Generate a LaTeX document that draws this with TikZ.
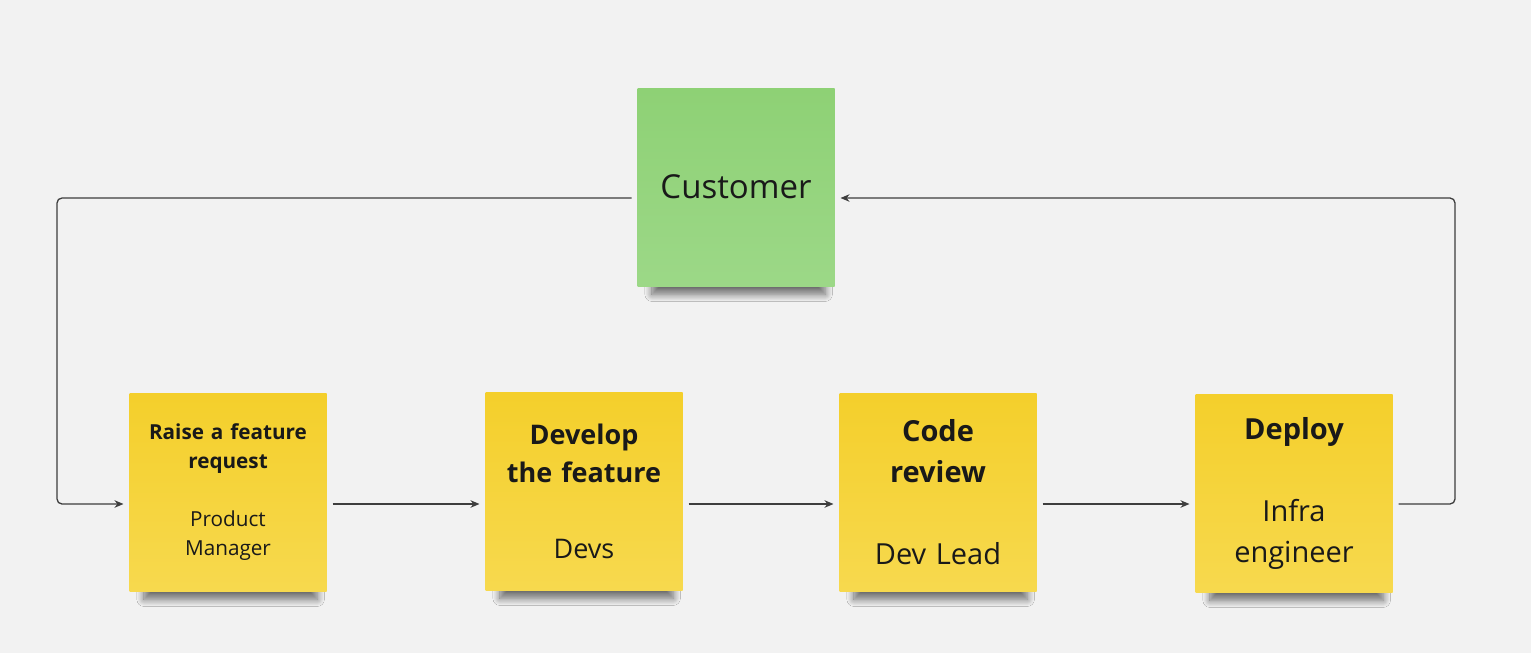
\documentclass[tikz,border=0pt]{standalone}
\definecolor{noteyel}{HTML}{F4CF2B}
\definecolor{noteyellt}{HTML}{F7D94E}
\definecolor{notegrn}{HTML}{8ED175}
\definecolor{notegrnlt}{HTML}{9CD887}
\definecolor{flowgray}{HTML}{3E3E3E}
\definecolor{boardbg}{HTML}{F2F2F2}
\usepackage{fontspec}
\setmainfont{Open Sans}[WordSpace={1,0,0}]
\usepackage{tikz}
\usetikzlibrary{arrows.meta,shadows.blur}

\begin{document}
\begin{tikzpicture}[x=1pt,y=-1pt,
    note/.style={rectangle,minimum width=197pt,minimum height=198pt,
                 inner sep=0pt,outer sep=6pt,align=center,text width=190pt,
                 text=black!90,
                 blur shadow={shadow xshift=3pt,shadow yshift=-23pt,
                              shadow opacity=55,shadow blur radius=8pt,
                              shadow blur steps=14,shadow scale=0.88}},
    yelnote/.style={note,top color=noteyel,bottom color=noteyellt},
    grnnote/.style={note,top color=notegrn,bottom color=notegrnlt},
    flow/.style={draw=flowgray,line width=1.3pt,rounded corners=5pt,
                 -{Stealth[length=9pt,width=7.5pt]}}
  ]
    \fill[boardbg] (0,0) rectangle (1531,653);
    \useasboundingbox (0,0) rectangle (1531,653);

    \node[grnnote,font=\fontsize{33}{40}\selectfont] (customer) at (736,187) {
      Customer
    };
    \node[yelnote,font=\fontsize{20.7}{29}\selectfont] (raise) at (228,492) {
      \textbf{Raise a feature}\\
      \textbf{request}\\
      \mbox{}\\
      Product\\
      Manager
    };
    \node[yelnote,font=\fontsize{27}{38}\selectfont] (develop) at (584,491) {
      \textbf{Develop}\\
      \textbf{the feature}\\
      \mbox{}\\
      Devs
    };
    \node[yelnote,font=\fontsize{29}{41}\selectfont] (review) at (938,492) {
      \textbf{Code}\\
      \textbf{review}\\
      \mbox{}\\
      Dev Lead
    };
    \node[yelnote,font=\fontsize{29}{41}\selectfont] (deploy) at (1294,493) {
      \textbf{Deploy}\\
      \mbox{}\\
      Infra\\
      engineer
    };

    \coordinate (backleft) at (57,198);
    \coordinate (backright) at (1455,198);

    \draw[flow] ([yshift=-12pt]raise.east) -- ([yshift=-13pt]develop.west);
    \draw[flow] ([yshift=-13pt]develop.east) -- ([yshift=-12pt]review.west);
    \draw[flow] ([yshift=-12pt]review.east) -- ([yshift=-11pt]deploy.west);
    \draw[flow] ([yshift=-11pt]deploy.east) -| (backright)
      -- ([yshift=-11pt]customer.east);
    \draw[flow] ([yshift=-11pt]customer.west) -- (backleft)
      |- ([yshift=-12pt]raise.west);
  \end{tikzpicture}
\end{document}
